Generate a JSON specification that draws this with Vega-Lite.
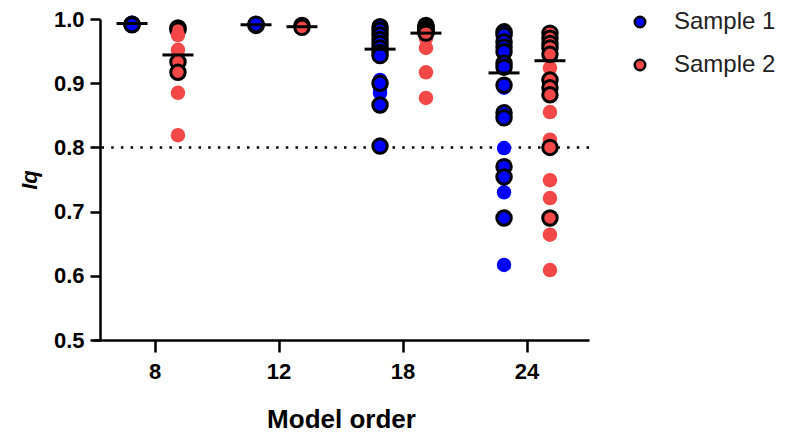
{
  "$schema": "https://vega.github.io/schema/vega-lite/v6.json",
  "autosize": "none",
  "width": 496,
  "height": 321,
  "padding": {"left": 93, "top": 19, "right": 196, "bottom": 97},
  "background": "white",
  "config": {
    "font": "Liberation Sans",
    "view": {"stroke": null},
    "axis": {"grid": false, "domainColor": "black", "domainWidth": 2.5, "tickColor": "black", "tickWidth": 2.5, "labelColor": "black", "titleColor": "black", "labelFont": "Liberation Sans", "titleFont": "Liberation Sans"}
  },
  "datasets": {
    "points": [
      {"order": 8, "sample": "Sample 1", "Iq": 0.994, "marked": "no"},
      {"order": 8, "sample": "Sample 1", "Iq": 0.992, "marked": "no"},
      {"order": 8, "sample": "Sample 1", "Iq": 0.993, "marked": "no"},
      {"order": 8, "sample": "Sample 1", "Iq": 0.992, "marked": "yes"},
      {"order": 8, "sample": "Sample 1", "Iq": 0.991, "marked": "yes"},
      {"order": 8, "sample": "Sample 2", "Iq": 0.986, "marked": "yes"},
      {"order": 8, "sample": "Sample 2", "Iq": 0.983, "marked": "yes"},
      {"order": 8, "sample": "Sample 2", "Iq": 0.933, "marked": "yes"},
      {"order": 8, "sample": "Sample 2", "Iq": 0.917, "marked": "yes"},
      {"order": 8, "sample": "Sample 2", "Iq": 0.975, "marked": "no"},
      {"order": 8, "sample": "Sample 2", "Iq": 0.952, "marked": "no"},
      {"order": 8, "sample": "Sample 2", "Iq": 0.885, "marked": "no"},
      {"order": 8, "sample": "Sample 2", "Iq": 0.819, "marked": "no"},
      {"order": 12, "sample": "Sample 1", "Iq": 0.991, "marked": "no"},
      {"order": 12, "sample": "Sample 1", "Iq": 0.991, "marked": "yes"},
      {"order": 12, "sample": "Sample 1", "Iq": 0.990, "marked": "yes"},
      {"order": 12, "sample": "Sample 1", "Iq": 0.992, "marked": "yes"},
      {"order": 12, "sample": "Sample 2", "Iq": 0.989, "marked": "no"},
      {"order": 12, "sample": "Sample 2", "Iq": 0.990, "marked": "yes"},
      {"order": 12, "sample": "Sample 2", "Iq": 0.987, "marked": "yes"},
      {"order": 18, "sample": "Sample 1", "Iq": 0.975, "marked": "no"},
      {"order": 18, "sample": "Sample 1", "Iq": 0.963, "marked": "no"},
      {"order": 18, "sample": "Sample 1", "Iq": 0.905, "marked": "no"},
      {"order": 18, "sample": "Sample 1", "Iq": 0.893, "marked": "no"},
      {"order": 18, "sample": "Sample 1", "Iq": 0.885, "marked": "no"},
      {"order": 18, "sample": "Sample 1", "Iq": 0.988, "marked": "yes"},
      {"order": 18, "sample": "Sample 1", "Iq": 0.982, "marked": "yes"},
      {"order": 18, "sample": "Sample 1", "Iq": 0.975, "marked": "yes"},
      {"order": 18, "sample": "Sample 1", "Iq": 0.968, "marked": "yes"},
      {"order": 18, "sample": "Sample 1", "Iq": 0.962, "marked": "yes"},
      {"order": 18, "sample": "Sample 1", "Iq": 0.955, "marked": "yes"},
      {"order": 18, "sample": "Sample 1", "Iq": 0.948, "marked": "yes"},
      {"order": 18, "sample": "Sample 1", "Iq": 0.943, "marked": "yes"},
      {"order": 18, "sample": "Sample 1", "Iq": 0.900, "marked": "yes"},
      {"order": 18, "sample": "Sample 1", "Iq": 0.866, "marked": "yes"},
      {"order": 18, "sample": "Sample 1", "Iq": 0.802, "marked": "yes"},
      {"order": 18, "sample": "Sample 2", "Iq": 0.986, "marked": "no"},
      {"order": 18, "sample": "Sample 2", "Iq": 0.970, "marked": "no"},
      {"order": 18, "sample": "Sample 2", "Iq": 0.955, "marked": "no"},
      {"order": 18, "sample": "Sample 2", "Iq": 0.917, "marked": "no"},
      {"order": 18, "sample": "Sample 2", "Iq": 0.877, "marked": "no"},
      {"order": 18, "sample": "Sample 2", "Iq": 0.990, "marked": "yes"},
      {"order": 18, "sample": "Sample 2", "Iq": 0.988, "marked": "yes"},
      {"order": 18, "sample": "Sample 2", "Iq": 0.986, "marked": "yes"},
      {"order": 18, "sample": "Sample 2", "Iq": 0.984, "marked": "yes"},
      {"order": 18, "sample": "Sample 2", "Iq": 0.982, "marked": "yes"},
      {"order": 18, "sample": "Sample 2", "Iq": 0.980, "marked": "yes"},
      {"order": 18, "sample": "Sample 2", "Iq": 0.978, "marked": "yes"},
      {"order": 24, "sample": "Sample 1", "Iq": 0.960, "marked": "no"},
      {"order": 24, "sample": "Sample 1", "Iq": 0.928, "marked": "no"},
      {"order": 24, "sample": "Sample 1", "Iq": 0.894, "marked": "no"},
      {"order": 24, "sample": "Sample 1", "Iq": 0.893, "marked": "no"},
      {"order": 24, "sample": "Sample 1", "Iq": 0.799, "marked": "no"},
      {"order": 24, "sample": "Sample 1", "Iq": 0.730, "marked": "no"},
      {"order": 24, "sample": "Sample 1", "Iq": 0.617, "marked": "no"},
      {"order": 24, "sample": "Sample 1", "Iq": 0.980, "marked": "yes"},
      {"order": 24, "sample": "Sample 1", "Iq": 0.975, "marked": "yes"},
      {"order": 24, "sample": "Sample 1", "Iq": 0.964, "marked": "yes"},
      {"order": 24, "sample": "Sample 1", "Iq": 0.956, "marked": "yes"},
      {"order": 24, "sample": "Sample 1", "Iq": 0.949, "marked": "yes"},
      {"order": 24, "sample": "Sample 1", "Iq": 0.931, "marked": "yes"},
      {"order": 24, "sample": "Sample 1", "Iq": 0.925, "marked": "yes"},
      {"order": 24, "sample": "Sample 1", "Iq": 0.897, "marked": "yes"},
      {"order": 24, "sample": "Sample 1", "Iq": 0.854, "marked": "yes"},
      {"order": 24, "sample": "Sample 1", "Iq": 0.846, "marked": "yes"},
      {"order": 24, "sample": "Sample 1", "Iq": 0.770, "marked": "yes"},
      {"order": 24, "sample": "Sample 1", "Iq": 0.754, "marked": "yes"},
      {"order": 24, "sample": "Sample 1", "Iq": 0.690, "marked": "yes"},
      {"order": 24, "sample": "Sample 2", "Iq": 0.975, "marked": "no"},
      {"order": 24, "sample": "Sample 2", "Iq": 0.970, "marked": "no"},
      {"order": 24, "sample": "Sample 2", "Iq": 0.924, "marked": "no"},
      {"order": 24, "sample": "Sample 2", "Iq": 0.855, "marked": "no"},
      {"order": 24, "sample": "Sample 2", "Iq": 0.812, "marked": "no"},
      {"order": 24, "sample": "Sample 2", "Iq": 0.749, "marked": "no"},
      {"order": 24, "sample": "Sample 2", "Iq": 0.721, "marked": "no"},
      {"order": 24, "sample": "Sample 2", "Iq": 0.664, "marked": "no"},
      {"order": 24, "sample": "Sample 2", "Iq": 0.609, "marked": "no"},
      {"order": 24, "sample": "Sample 2", "Iq": 0.978, "marked": "yes"},
      {"order": 24, "sample": "Sample 2", "Iq": 0.970, "marked": "yes"},
      {"order": 24, "sample": "Sample 2", "Iq": 0.962, "marked": "yes"},
      {"order": 24, "sample": "Sample 2", "Iq": 0.955, "marked": "yes"},
      {"order": 24, "sample": "Sample 2", "Iq": 0.945, "marked": "yes"},
      {"order": 24, "sample": "Sample 2", "Iq": 0.905, "marked": "yes"},
      {"order": 24, "sample": "Sample 2", "Iq": 0.893, "marked": "yes"},
      {"order": 24, "sample": "Sample 2", "Iq": 0.882, "marked": "yes"},
      {"order": 24, "sample": "Sample 2", "Iq": 0.800, "marked": "yes"},
      {"order": 24, "sample": "Sample 2", "Iq": 0.690, "marked": "yes"}
    ],
    "means": [
      {"order": 8, "sample": "Sample 1", "Iq": 0.993},
      {"order": 8, "sample": "Sample 2", "Iq": 0.944},
      {"order": 12, "sample": "Sample 1", "Iq": 0.991},
      {"order": 12, "sample": "Sample 2", "Iq": 0.988},
      {"order": 18, "sample": "Sample 1", "Iq": 0.953},
      {"order": 18, "sample": "Sample 2", "Iq": 0.978},
      {"order": 24, "sample": "Sample 1", "Iq": 0.916},
      {"order": 24, "sample": "Sample 2", "Iq": 0.935}
    ],
    "threshold": [{"Iq": 0.8}]
  },
  "encoding": {
    "x": {
      "field": "order", "type": "ordinal",
      "scale": {"paddingInner": 0, "paddingOuter": 0},
      "axis": {"title": "Model order", "labelAngle": 0, "labelFontSize": 22, "labelFontWeight": "bold", "labelPadding": 9, "tickSize": 12, "titleFontSize": 26, "titleFontWeight": "bold", "titlePadding": 24}
    },
    "y": {
      "field": "Iq", "type": "quantitative",
      "scale": {"domain": [0.5, 1.0], "nice": false, "zero": false},
      "axis": {"title": "Iq", "offset": -7, "values": [0.5, 0.6, 0.7, 0.8, 0.9, 1.0], "format": ".1f", "labelFontSize": 22, "labelFontWeight": "bold", "labelPadding": 6, "tickSize": 10, "titleFontSize": 22, "titleFontWeight": "bold", "titleFontStyle": "italic", "titlePadding": 12}
    },
    "xOffset": {"field": "sample", "type": "nominal", "scale": {"domain": ["Sample 1", "Sample 2"], "paddingInner": 0, "paddingOuter": 0.35}}
  },
  "layer": [
    {
      "data": {"name": "threshold"},
      "mark": {"type": "rule", "color": "black", "strokeWidth": 2.5, "strokeDash": [2.5, 7.2]},
      "encoding": {"x": null, "xOffset": null, "y": {"field": "Iq", "type": "quantitative"}}
    },
    {
      "data": {"name": "points"},
      "mark": {"type": "point", "shape": "circle", "filled": true, "size": 210, "opacity": 1, "stroke": "black"},
      "encoding": {
        "color": {"field": "sample", "type": "nominal",
          "scale": {"domain": ["Sample 1", "Sample 2"], "range": ["#0000FF", "#F44848"]},
          "legend": {"title": null, "orient": "none", "legendX": 535, "legendY": -9, "labelFontSize": 24, "labelFont": "Liberation Sans", "labelColor": "#222", "labelOffset": 22, "rowPadding": 19, "symbolSize": 110, "symbolStrokeColor": "black", "symbolStrokeWidth": 2.5, "symbolType": "circle", "symbolOpacity": 1}
        },
        "strokeWidth": {"condition": {"test": "datum.marked === 'yes'", "value": 3}, "value": 0}
      }
    },
    {
      "data": {"name": "means"},
      "mark": {"type": "tick", "color": "black", "size": 31, "thickness": 3, "orient": "horizontal", "opacity": 1}
    }
  ]
}
